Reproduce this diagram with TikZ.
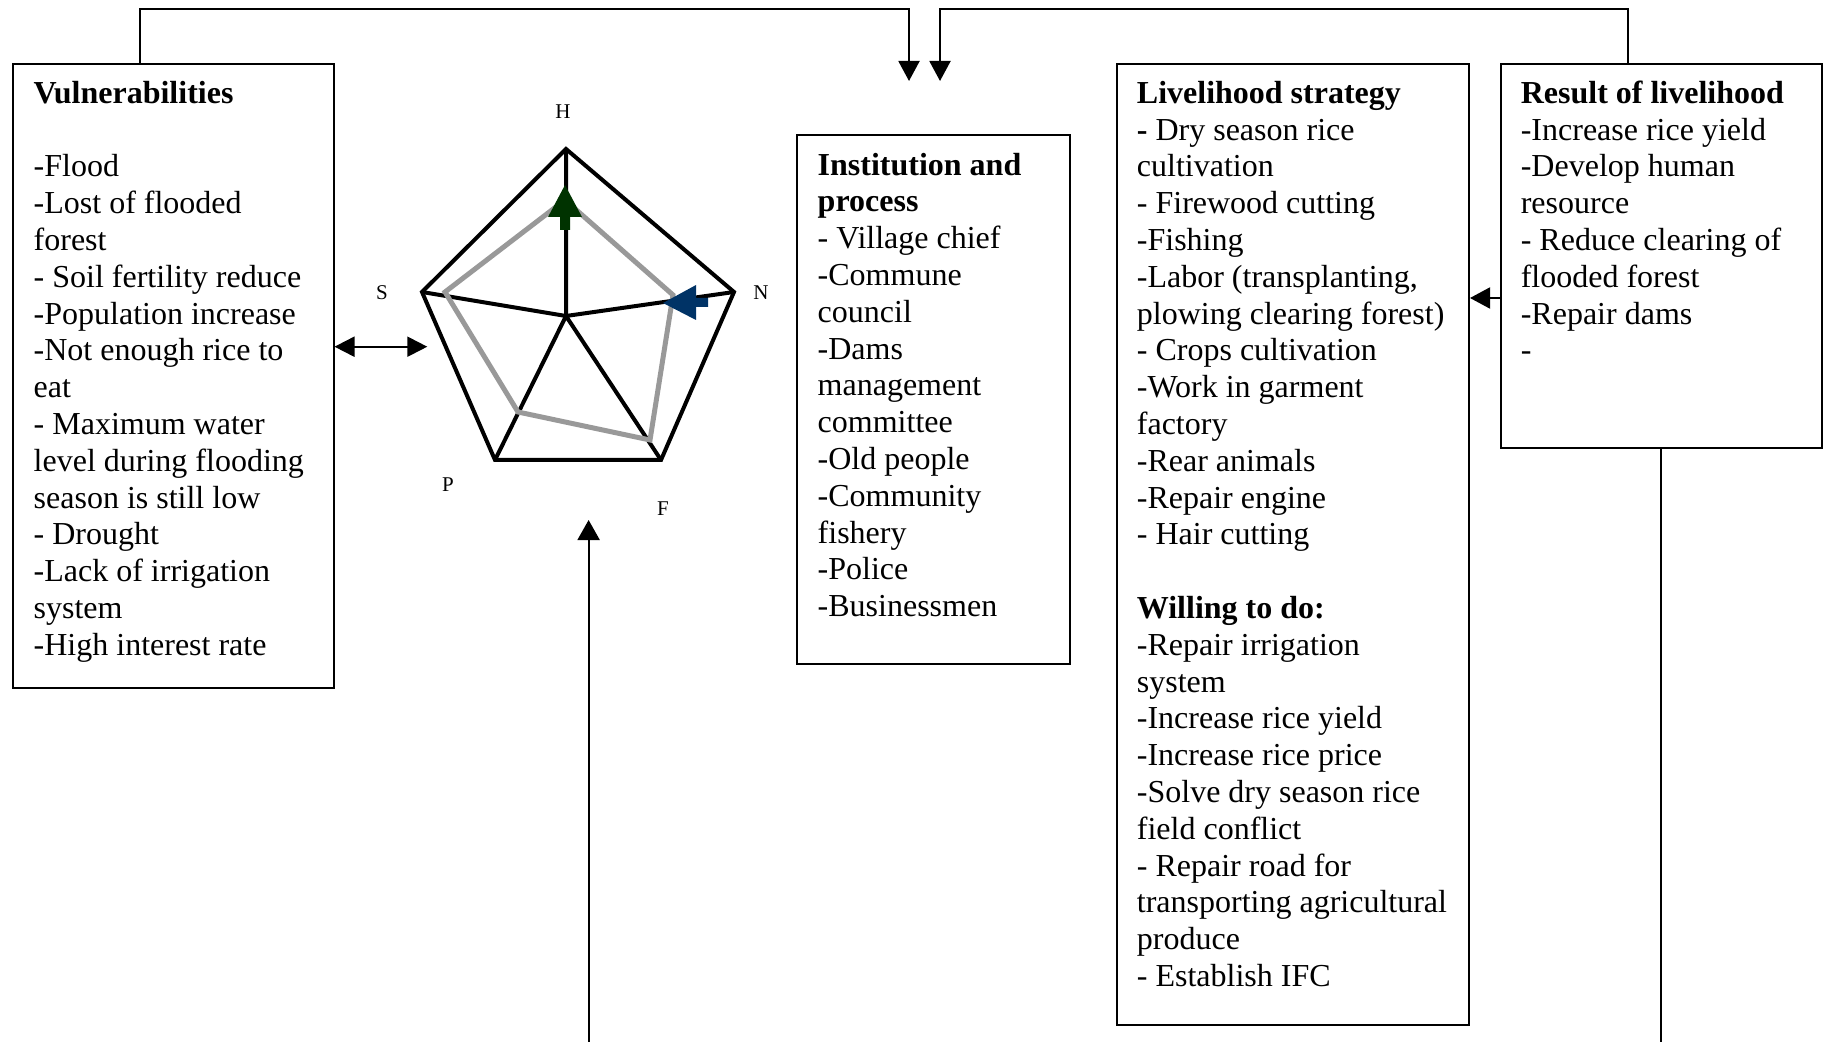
\documentclass[tikz,border=0pt]{standalone}
\usepackage{fontspec}
\setmainfont{Liberation Serif}
\usetikzlibrary{arrows.meta,calc}

\definecolor{webgray}{RGB}{153,153,153}
\definecolor{treegreen}{RGB}{0,51,0}
\definecolor{navyblue}{RGB}{0,51,102}

\tikzset{
  frame/.style={draw, line width=1pt, rectangle, inner sep=0pt, anchor=north west},
  % the base anchor of a multi-line node sits on its last line
  boxtext/.style={anchor=base west, inner sep=0pt, align=left,
                  font=\fontsize{16}{18.4}\selectfont},
  axislabel/.style={inner sep=0pt, font=\fontsize{10.5}{12}\selectfont},
  conn/.style={line width=1pt},
  tip/.style={-{Triangle[length=10pt,width=10.5pt]}},
  bitip/.style={{Triangle[length=10pt,width=10pt]}-{Triangle[length=10pt,width=10pt]}},
  web/.style={line width=2pt, line join=miter},
  grayweb/.style={line width=2.5pt, draw=webgray, line join=miter}
}

\begin{document}
\begin{tikzpicture}[x=0.5pt,y=-0.5pt]
\useasboundingbox (0,0) rectangle (1824,1042);

% ---------- boxes ----------
\node[frame, minimum width=160.1pt, minimum height=312pt] (vul) at (12.3,62.7) {};
\node[frame, minimum width=136.5pt, minimum height=264.5pt] (inst) at (796,134) {};
\node[frame, minimum width=176pt, minimum height=480.5pt] (live) at (1116,62.7) {};
\node[frame, minimum width=160.3pt, minimum height=192pt] (res) at (1500,62.7) {};

% ---------- box texts (placed by the baseline of their last line) ----------
\node[boxtext] (vultxt) at (33.3,655.3) {\bfseries Vulnerabilities\\[18.4pt]
-Flood\\
-Lost of flooded\\
forest\\
- Soil fertility reduce\\
-Population increase\\
-Not enough rice to\\
eat\\
- Maximum water\\
level during flooding\\
season is still low\\
- Drought\\
-Lack of irrigation\\
system\\
-High interest rate};

\node[boxtext] (insttxt) at (817.3,616.6) {\bfseries Institution and\\
\bfseries process\\
- Village chief\\
-Commune\\
council\\
-Dams\\
management\\
committee\\
-Old people\\
-Community\\
fishery\\
-Police\\
-Businessmen};

\node[boxtext] (livetxt) at (1136.5,986.5) {\bfseries Livelihood strategy\\
{\bfseries -} Dry season rice\\
cultivation\\
- Firewood cutting\\
-Fishing\\
-Labor (transplanting,\\
plowing clearing forest)\\
- Crops cultivation\\
-Work in garment\\
factory\\
-Rear animals\\
-Repair engine\\
- Hair cutting\\[18.4pt]
\bfseries Willing to do:\\
-Repair irrigation\\
system\\
-Increase rice yield\\
-Increase rice price\\
-Solve dry season rice\\
field conflict\\
- Repair road for\\
transporting agricultural\\
produce\\
- Establish IFC};

\node[boxtext] (restxt) at (1520.4,360.9) {\bfseries Result of livelihood\\
-Increase rice yield\\
-Develop human\\
resource\\
- Reduce clearing of\\
flooded forest\\
-Repair dams\\
-};

% ---------- asset pentagon ----------
\coordinate (H) at (566,149);
\coordinate (N) at (734,292);
\coordinate (F) at (661,460);
\coordinate (P) at (495,460);
\coordinate (S) at (422,292);
\coordinate (C) at (566,316);

\draw[web] (H) -- (N) -- (F) -- (P) -- (S) -- cycle;
\draw[web] (C) -- (H) (C) -- (N) (C) -- (F) (C) -- (P) (C) -- (S);
\draw[grayweb] (565,200) -- (673,295) -- (650,440) -- (518,412) -- (445,292) -- cycle;

% upward trend on H
\fill[treegreen] (565,185) -- (582,217) -- (570,217) -- (570,230) -- (560,230)
  -- (560,217) -- (548,217) -- cycle;
% inward trend on N
\fill[navyblue] (663,303) -- (696,285) -- (696,298) -- (708,298) -- (708,307)
  -- (696,307) -- (696,320) -- cycle;

\node[axislabel] (lH) at (563,112) {H};
\node[axislabel] (lS) at (382,293) {S};
\node[axislabel] (lN) at (761,293) {N};
\node[axislabel] (lP) at (448,485) {P};
\node[axislabel] (lF) at (663,509) {F};

% ---------- connectors ----------
\coordinate (inL) at (909,81);
\coordinate (inR) at (940,81);
\draw[conn,tip] ($(vul.north west)+(127.3,0)$) |- ($(inL)+(0,-71.5)$) -- (inL);
\draw[conn,tip] ($(res.north west)+(127.5,0)$) |- ($(inR)+(0,-71.5)$) -- (inR);

\coordinate (pentL) at (427.3,346.7);
\draw[conn,bitip] (vul.east |- pentL) -- (pentL);

\coordinate (pentB) at (588.6,520);
\coordinate (baseB) at (588.6,1042);
\draw[conn,-{Triangle[length=10pt,width=11pt]}] (baseB) -- (pentB);

\coordinate (rl) at (1500,298);
\draw[conn,tip] (res.west |- rl) -- (live.east |- rl);

\coordinate (resB) at (1660,1042);
\draw[conn] (res.south) -- (res.south |- resB);
\end{tikzpicture}
\end{document}
